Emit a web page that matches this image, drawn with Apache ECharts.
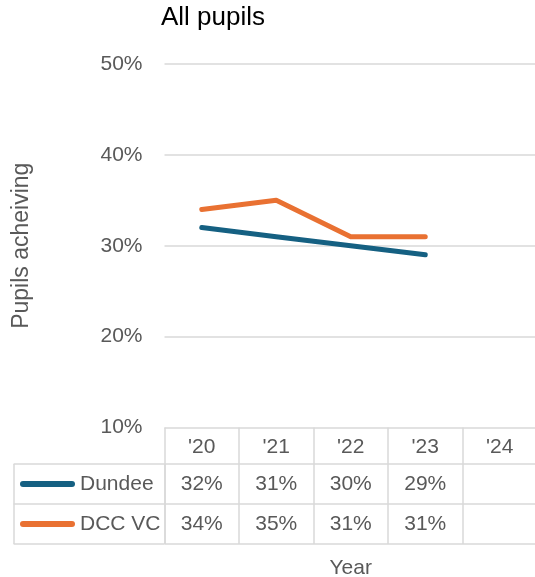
<!DOCTYPE html>
<html>
<head>
<meta charset="utf-8">
<script src="https://cdn.jsdelivr.net/npm/echarts@6/dist/echarts.min.js"></script>
<style>
  html, body { margin: 0; padding: 0; background: #fff; }
  #chart { width: 535px; height: 577px; }
</style>
</head>
<body>
<div id="chart"></div>
<script>
const years = ["'20", "'21", "'22", "'23", "'24"]
const dundee = [32, 31, 30, 29, null]
const dccVc = [34, 35, 31, 31, null]
const seriesNames = ['Dundee', 'DCC VC']

const colors = ['#156082', '#E97132']
const grey = '#595959'
const rule = '#d9d9d9'
const font = 'Liberation Sans'

// plot area
const plotLeft = 164.5
const plotTop = 64
const plotBottom = 427.5
const tableTop = 464
const rowH = 40

const rows = [dundee, dccVc]
const cells = []
rows.forEach((vals, r) => {
  vals.forEach((v, i) => {
    if (v != null) cells.push([i, r, v])
  })
})

const chart = echarts.init(document.getElementById('chart'))

const hiddenCatAxis = {
  type: 'category',
  axisLine: { show: false },
  axisTick: { show: false },
  axisLabel: { show: false },
  splitLine: { show: true, interval: 0, lineStyle: { color: rule, width: 1.5 } },
}

chart.setOption({
  animation: false,
  color: colors,
  textStyle: { fontFamily: font },
  title: {
    text: 'All pupils',
    left: 161,
    top: 5,
    padding: 0,
    textStyle: { color: '#000', fontSize: 26, fontWeight: 'normal', fontFamily: font },
  },
  legend: {
    orient: 'vertical',
    left: 20,
    top: tableTop + rowH / 2 - 12,
    padding: 0,
    itemGap: 16,
    itemWidth: 55,
    itemHeight: 6,
    icon: 'path://M3,0 L52,0 A3,3 0 0 1 52,6 L3,6 A3,3 0 0 1 3,0 Z',
    textStyle: { color: grey, fontSize: 21, lineHeight: 24, fontFamily: font },
    data: seriesNames,
  },
  grid: [
    { left: plotLeft, right: -2, top: plotTop, height: plotBottom - plotTop, outerBoundsMode: 'none' },
    { left: plotLeft, right: -2, top: tableTop, height: rowH * 2, outerBoundsMode: 'none' },
    { left: 13.6, width: plotLeft - 13.6, top: tableTop, height: rowH * 2, outerBoundsMode: 'none' },
  ],
  xAxis: [
    {
      gridIndex: 0,
      type: 'category',
      data: years,
      boundaryGap: true,
      axisLine: { show: false },
      axisTick: { show: true, interval: 0, length: tableTop - plotBottom, lineStyle: { color: rule, width: 1.5 } },
      axisLabel: { color: grey, fontSize: 21, margin: 9, interval: 0 },
      name: 'Year',
      nameLocation: 'middle',
      nameGap: 130,
      nameTextStyle: { color: grey, fontSize: 21 },
    },
    { ...hiddenCatAxis, gridIndex: 1, data: years },
    { ...hiddenCatAxis, gridIndex: 2, data: [''] },
  ],
  yAxis: [
    {
      gridIndex: 0,
      type: 'value',
      min: 10,
      max: 50,
      interval: 10,
      axisLine: { show: false },
      axisTick: { show: false },
      axisLabel: { color: grey, fontSize: 21, margin: 22, formatter: '{value}%' },
      splitLine: { lineStyle: { color: rule, width: 1.5 } },
      name: 'Pupils acheiving',
      nameLocation: 'middle',
      nameRotate: 90,
      nameGap: 131,
      nameTextStyle: { color: grey, fontSize: 23 },
    },
    { ...hiddenCatAxis, gridIndex: 1, data: seriesNames, inverse: true },
    { ...hiddenCatAxis, gridIndex: 2, data: seriesNames, inverse: true },
  ],
  series: [
    {
      name: seriesNames[0],
      type: 'line',
      data: dundee,
      showSymbol: false,
      symbol: 'none',
      lineStyle: { width: 5, cap: 'round', join: 'round', color: colors[0] },
      itemStyle: { color: colors[0] },
    },
    {
      name: seriesNames[1],
      type: 'line',
      data: dccVc,
      showSymbol: false,
      symbol: 'none',
      lineStyle: { width: 5, cap: 'round', join: 'round', color: colors[1] },
      itemStyle: { color: colors[1] },
    },
    {
      type: 'custom',
      xAxisIndex: 1,
      yAxisIndex: 1,
      data: cells,
      silent: true,
      renderItem(params, api) {
        const p = api.coord([api.value(0), api.value(1)])
        return {
          type: 'text',
          x: p[0],
          y: p[1],
          style: {
            text: api.value(2) + '%',
            fill: grey,
            font: '21px "' + font + '"',
            align: 'center',
            verticalAlign: 'middle',
          },
        }
      },
    },
  ],
})
</script>
</body>
</html>
